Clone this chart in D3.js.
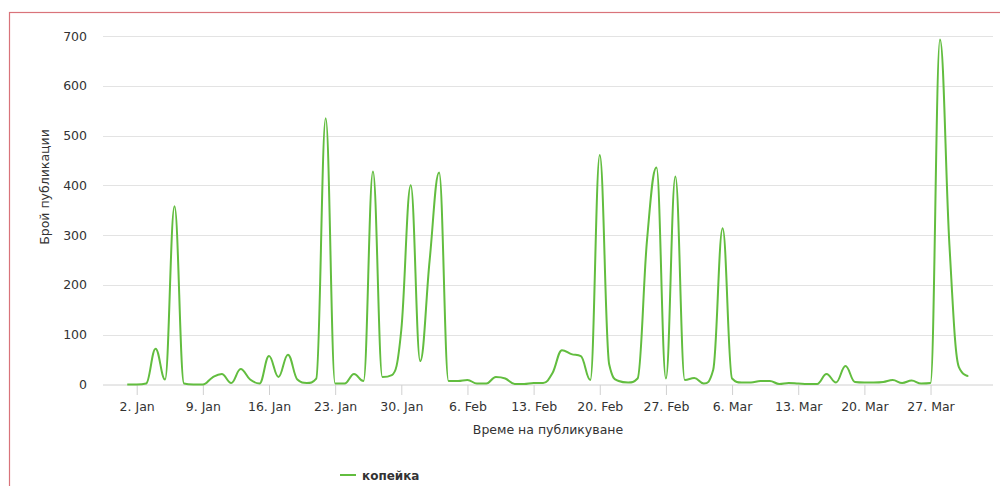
<!DOCTYPE html>
<html>
<head>
<meta charset="utf-8">
<script src="https://cdn.jsdelivr.net/npm/d3@7/dist/d3.min.js"></script>
<style>
  html, body { margin: 0; padding: 0; background: #fff; }
  svg { display: block; font-family: "DejaVu Sans", sans-serif; }
</style>
</head>
<body>
<svg id="chart" width="1000" height="486"></svg>
<script>
// ---- Data (daily publication counts, 1 Jan – 31 Mar) ----
const seriesName = "копейка";
const startDate = "2017-01-01";
const janValues = [0, 0, 2, 72, 10, 358, 2, 0, 0, 14, 21, 3, 31, 10, 2, 57, 15, 60, 10, 3, 12, 535, 2, 2, 21, 7, 428, 15, 19, 110, 400];
const febValues = [47, 250, 426, 7, 7, 9, 2, 2, 15, 12, 1, 1, 3, 3, 23, 69, 61, 57, 9, 461, 40, 7, 4, 12, 290, 436, 12, 418];
const marValues = [9, 13, 2, 29, 314, 12, 4, 4, 7, 7, 1, 3, 2, 1, 1, 21, 4, 37, 5, 4, 4, 5, 9, 3, 8, 2, 3, 693, 280, 35, 17];
const yTicks = [0, 100, 200, 300, 400, 500, 600, 700];
const xTickLabels = ["2. Jan", "9. Jan", "16. Jan", "23. Jan", "30. Jan", "6. Feb", "13. Feb", "20. Feb", "27. Feb", "6. Mar", "13. Mar", "20. Mar", "27. Mar"];
const xTickDates = ["2017-01-02", "2017-01-09", "2017-01-16", "2017-01-23", "2017-01-30", "2017-02-06", "2017-02-13", "2017-02-20", "2017-02-27", "2017-03-06", "2017-03-13", "2017-03-20", "2017-03-27"];
const yTitle = "Брой публикации";
const xTitle = "Време на публикуване";

// ---- Build ----
const values = janValues.concat(febValues, marValues);
const parse = d3.utcParse("%Y-%m-%d");
const t0 = parse(startDate);
const data = values.map((v, i) => ({ date: d3.utcDay.offset(t0, i), value: v }));

const svg = d3.select("#chart");
const plot = { left: 103, right: 993, top: 36, bottom: 384.5 };
const DAY = 864e5;

const x = d3.scaleUtc()
  .domain([new Date(+t0 - 2.566 * DAY), new Date(+t0 + 91.61 * DAY)])
  .range([plot.left, plot.right]);
const y = d3.scaleLinear().domain([0, 700]).range([plot.bottom, plot.top]);

// outer border
svg.append("rect")
  .attr("x", 9.5).attr("y", 12.5)
  .attr("width", 1010).attr("height", 500)
  .attr("fill", "none").attr("stroke", "#d9737a").attr("stroke-width", 1.2);

// gridlines
svg.append("g").selectAll("line").data(yTicks.slice(1)).join("line")
  .attr("x1", plot.left).attr("x2", plot.right)
  .attr("y1", d => Math.round(y(d)) + 0.5).attr("y2", d => Math.round(y(d)) + 0.5)
  .attr("stroke", "#e3e3e3").attr("stroke-width", 1);

// y axis labels
const yAxis = d3.axisLeft(y).tickValues(yTicks).tickSize(0).tickPadding(0).tickFormat(d3.format("d"));
const gy = svg.append("g").attr("transform", `translate(87,0)`).call(yAxis);
gy.select(".domain").remove();
gy.selectAll("text").attr("font-size", 12.5).attr("fill", "#333").attr("font-family", "DejaVu Sans, sans-serif");

// x axis
const tickDates = xTickDates.map(parse);
const xAxis = d3.axisBottom(x).tickValues(tickDates).tickSize(10).tickPadding(7)
  .tickFormat((d, i) => xTickLabels[i]);
const gx = svg.append("g").attr("transform", `translate(0,${plot.bottom + 0.5})`).call(xAxis);
gx.select(".domain").attr("d", `M${plot.left},0H${plot.right}`).attr("stroke", "#d0d0d0");
gx.selectAll(".tick line").attr("stroke", "#d0d0d0");
gx.selectAll("text").attr("font-size", 12.5).attr("fill", "#333").attr("font-family", "DejaVu Sans, sans-serif");

// axis titles
svg.append("text")
  .attr("transform", "translate(49,187) rotate(-90)")
  .attr("text-anchor", "middle")
  .attr("font-size", 12.5).attr("fill", "#333")
  .text(yTitle);
svg.append("text")
  .attr("x", 548).attr("y", 434)
  .attr("text-anchor", "middle")
  .attr("font-size", 12.5).attr("fill", "#333")
  .text(xTitle);

// spline path (Highcharts-style smoothing) built from scaled points
function splinePath(pts) {
  const smoothing = 1.5, denom = smoothing + 1;
  const p = d3.path();
  const rc = pts.map(q => [q[0], q[1]]);
  p.moveTo(pts[0][0], pts[0][1]);
  for (let i = 1; i < pts.length; i++) {
    const [px, py] = pts[i];
    let lcx = px, lcy = py;
    if (i < pts.length - 1) {
      const [lx, ly] = pts[i - 1];
      const [nx, ny] = pts[i + 1];
      lcx = (smoothing * px + lx) / denom;
      lcy = (smoothing * py + ly) / denom;
      let rcx = (smoothing * px + nx) / denom;
      let rcy = (smoothing * py + ny) / denom;
      let corr = 0;
      if (rcx !== lcx) corr = ((rcy - lcy) * (rcx - px)) / (rcx - lcx) + py - rcy;
      lcy += corr; rcy += corr;
      if (lcy > ly && lcy > py) { lcy = Math.max(ly, py); rcy = 2 * py - lcy; }
      else if (lcy < ly && lcy < py) { lcy = Math.min(ly, py); rcy = 2 * py - lcy; }
      if (rcy > ny && rcy > py) { rcy = Math.max(ny, py); lcy = 2 * py - rcy; }
      else if (rcy < ny && rcy < py) { rcy = Math.min(ny, py); lcy = 2 * py - rcy; }
      rc[i] = [rcx, rcy];
    }
    const prev = rc[i - 1];
    p.bezierCurveTo(prev[0], prev[1], lcx, lcy, px, py);
  }
  return p.toString();
}
const pts = data.map(d => [x(d.date), y(d.value)]);
svg.append("path")
  .attr("d", splinePath(pts))
  .attr("fill", "none")
  .attr("stroke", "#62bd3f")
  .attr("stroke-width", 2)
  .attr("stroke-linejoin", "round");

// legend
const lg = svg.append("g").attr("transform", "translate(340,475)");
lg.append("line").attr("x1", 0).attr("x2", 16).attr("y1", 0).attr("y2", 0)
  .attr("stroke", "#62bd3f").attr("stroke-width", 2);
lg.append("text").attr("x", 22).attr("y", 4.5)
  .attr("font-size", 12).attr("font-weight", "bold").attr("fill", "#333")
  .text(seriesName);
</script>
</body>
</html>
